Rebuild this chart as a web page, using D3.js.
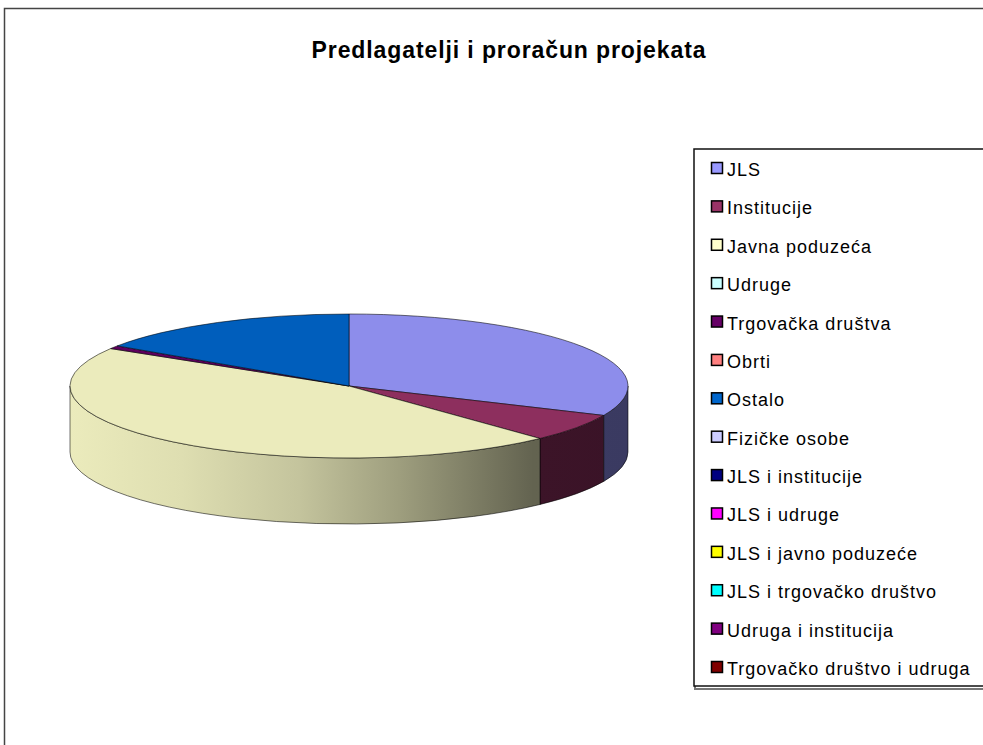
<!DOCTYPE html>
<html>
<head>
<meta charset="utf-8">
<script src="https://cdn.jsdelivr.net/npm/d3@7"></script>
<style>
  body { margin: 0; background: #fff; }
  svg { display: block; font-family: "Liberation Sans", Arial, sans-serif; }
</style>
</head>
<body>
<svg id="chart" width="983" height="745"></svg>
<script>
// data (share of budget, %)
var categories = [
  "JLS", "Institucije", "Javna poduzeća", "Udruge", "Trgovačka društva",
  "Obrti", "Ostalo", "Fizičke osobe", "JLS i institucije", "JLS i udruge",
  "JLS i javno poduzeće", "JLS i trgovačko društvo", "Udruga i institucija",
  "Trgovačko društvo i udruga"
];
var values = [31.7, 6.3, 45.7, 0, 0.7, 0, 15.6, 0, 0, 0, 0, 0, 0, 0];
var colors = [
  "#9999ff", "#993366", "#ffffcc", "#ccffff", "#660066", "#ff8080", "#0066cc",
  "#ccccff", "#000080", "#ff00ff", "#ffff00", "#00ffff", "#800080", "#800000"
];
var title = "Predlagatelji i proračun  projekata";

var width = 983, height = 745;
var svg = d3.select("#chart");

// outer chart frame
svg.append("rect")
  .attr("x", 4.5).attr("y", 8.5)
  .attr("width", width + 20).attr("height", height + 20)
  .attr("fill", "none").attr("stroke", "#444").attr("stroke-width", 1.5);

svg.append("text")
  .attr("x", 509).attr("y", 58)
  .attr("text-anchor", "middle")
  .attr("font-size", 23).attr("font-weight", "bold")
  .attr("letter-spacing", 0.9)
  .text(title);

// 3D pie geometry
var cx = 349, cy = 386, rx = 279, ry = 72, depth = 66;
var data = categories.map(function(c, i) { return { name: c, value: values[i], color: colors[i] }; });
var arcs = d3.pie().sort(null).value(function(d) { return d.value; })(data)
  .filter(function(a) { return a.data.value > 0; });

function pt(a, dy) {
  return [cx + rx * Math.sin(a), cy - ry * Math.cos(a) + (dy || 0)];
}

// side shading runs dark towards the right
var shade = d3.scaleLinear()
  .domain([0, 0.2, 0.41, 0.59, 0.83, 1])
  .range([0.92, 0.87, 0.77, 0.62, 0.39, 0.38]);

function scaled(col, k) {
  var c = d3.rgb(col);
  return d3.rgb(c.r * k, c.g * k, c.b * k).formatHex();
}

var defs = svg.append("defs");
arcs.forEach(function(a, i) {
  var g = defs.append("linearGradient")
    .attr("id", "side" + i)
    .attr("gradientUnits", "userSpaceOnUse")
    .attr("x1", cx - rx).attr("x2", cx + rx)
    .attr("y1", 0).attr("y2", 0);
  shade.domain().forEach(function(t) {
    g.append("stop").attr("offset", t).attr("stop-color", scaled(a.data.color, shade(t)));
  });
});

var pie = svg.append("g");

// front walls
arcs.forEach(function(a, i) {
  var s = Math.max(a.startAngle, Math.PI / 2);
  var e = Math.min(a.endAngle, 3 * Math.PI / 2);
  if (e <= s) return;
  var p0 = pt(s), p1 = pt(e), q1 = pt(e, depth), q0 = pt(s, depth);
  var path = "M" + p0 + "A" + rx + "," + ry + " 0 0 1 " + p1 +
    "L" + q1 + "A" + rx + "," + ry + " 0 0 0 " + q0 + "Z";
  pie.append("path")
    .attr("d", path)
    .attr("fill", "url(#side" + i + ")")
    .attr("stroke", "#000").attr("stroke-opacity", 0.55).attr("stroke-width", 1);
});

// top faces
arcs.forEach(function(a) {
  var p0 = pt(a.startAngle), p1 = pt(a.endAngle);
  var large = (a.endAngle - a.startAngle) > Math.PI ? 1 : 0;
  var path = "M" + cx + "," + cy + "L" + p0 +
    "A" + rx + "," + ry + " 0 " + large + " 1 " + p1 + "Z";
  pie.append("path")
    .attr("d", path)
    .attr("fill", scaled(a.data.color, 0.92))
    .attr("stroke", "#000").attr("stroke-opacity", 0.55).attr("stroke-width", 1)
    .attr("stroke-linejoin", "round");
});

// legend
var legendX = 694, legendY = 149;
var rowY = d3.scaleLinear().domain([0, categories.length - 1]).range([168, 667]);

svg.append("rect")
  .attr("x", legendX + 1).attr("y", legendY + 1)
  .attr("width", 320).attr("height", 539)
  .attr("fill", "none").attr("stroke", "#777").attr("stroke-width", 2);
svg.append("rect")
  .attr("x", legendX).attr("y", legendY)
  .attr("width", 320).attr("height", 537)
  .attr("fill", "#fff").attr("stroke", "#111").attr("stroke-width", 1.5);

var items = svg.append("g").selectAll("g")
  .data(data)
  .join("g")
  .attr("transform", function(d, i) { return "translate(0," + rowY(i) + ")"; });

items.append("rect")
  .attr("x", 711.5).attr("y", -5.5)
  .attr("width", 11).attr("height", 11)
  .attr("fill", function(d) { return d.color; })
  .attr("stroke", "#000").attr("stroke-width", 1.5);

items.append("text")
  .attr("x", 727).attr("y", 8)
  .attr("font-size", 18)
  .attr("letter-spacing", 1)
  .attr("fill", "#000")
  .text(function(d) { return d.name; });
</script>
</body>
</html>
